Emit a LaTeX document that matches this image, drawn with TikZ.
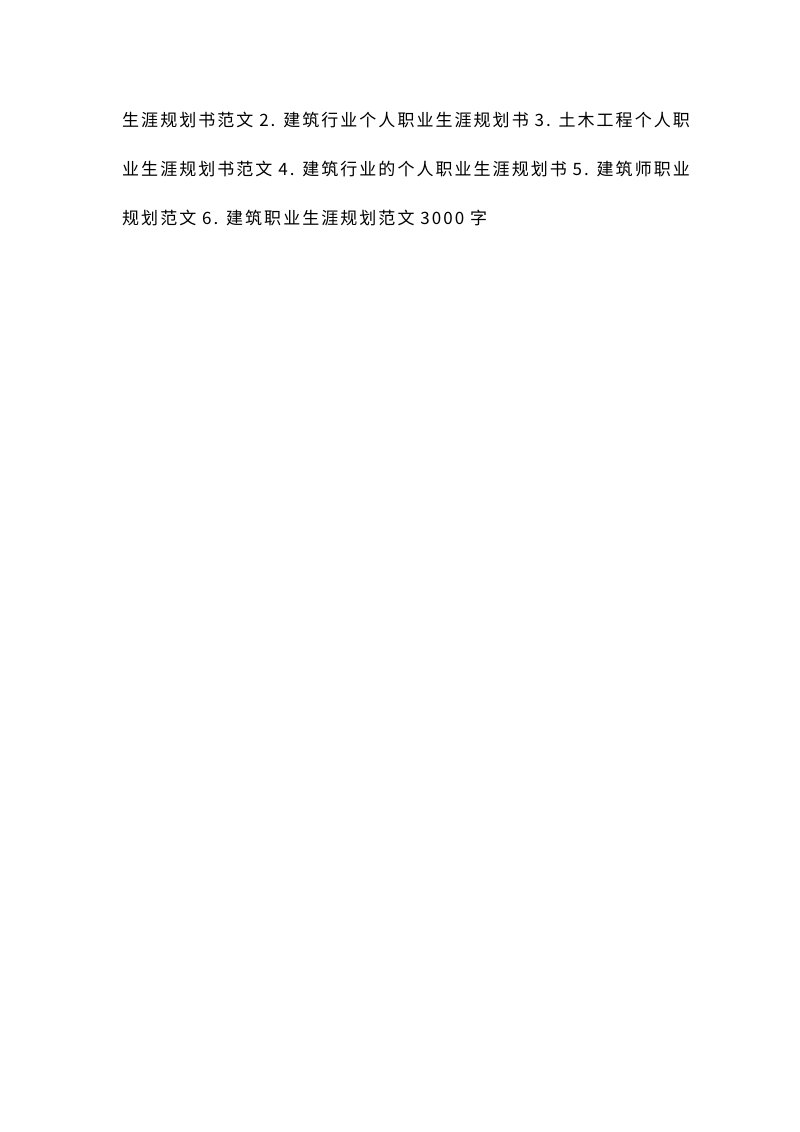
\documentclass[tikz,border=0pt]{standalone}
\usepackage{fontspec}
\newfontfamily\cjk[LetterSpace=12]{Noto Sans CJK SC}
\begin{document}
\begin{tikzpicture}[x=1pt,y=-1pt,line/.style={anchor=base west,inner sep=0pt,font=\cjk\fontsize{17}{17}\selectfont}]
\useasboundingbox[fill=white] (0,0) rectangle (800,1132);
\node[line] (l1) at (122,126) {生涯规划书范文 2. 建筑行业个人职业生涯规划书 3. 土木工程个人职};
\node[line] (l2) at (122,175) {业生涯规划书范文 4. 建筑行业的个人职业生涯规划书 5. 建筑师职业};
\node[line] (l3) at (122,224) {规划范文 6. 建筑职业生涯规划范文 3000 字};
\end{tikzpicture}
\end{document}
